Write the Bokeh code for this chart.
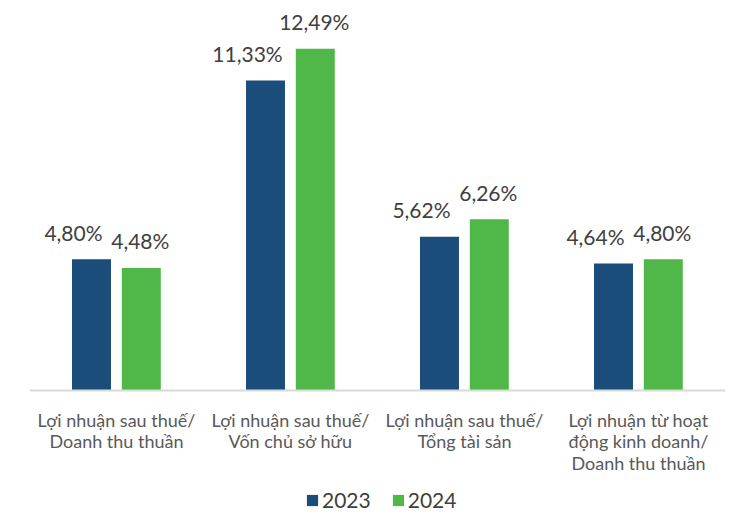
from bokeh.plotting import figure
from bokeh.models import ColumnDataSource, FactorRange, Legend, LegendItem, Span
from bokeh.transform import dodge
from bokeh.core.properties import value
from bokeh.embed import file_html
from bokeh.resources import INLINE

categories = [
    "Lợi nhuận sau thuế/\nDoanh thu thuần",
    "Lợi nhuận sau thuế/\nVốn chủ sở hữu",
    "Lợi nhuận sau thuế/\nTổng tài sản",
    "Lợi nhuận từ hoạt\nđộng kinh doanh/\nDoanh thu thuần",
]
values_2023 = [4.80, 11.33, 5.62, 4.64]
values_2024 = [4.48, 12.49, 6.26, 4.80]
series_names = ["2023", "2024"]

def fmt(v):
    return f"{v:.2f}".replace(".", ",") + "%"

source = ColumnDataSource(dict(
    cat=categories,
    v2023=values_2023,
    v2024=values_2024,
    t2023=[fmt(v) for v in values_2023],
    t2024=[fmt(v) for v in values_2024],
))

# category labels split into lines (drawn as text under the baseline)
LINE_GAP = 21.7
lab_cat, lab_txt, lab_off = [], [], []
for c in categories:
    for i, line in enumerate(c.split("\n")):
        lab_cat.append(c)
        lab_txt.append(line)
        lab_off.append(29 + LINE_GAP * i)
label_src = ColumnDataSource(dict(cat=lab_cat, txt=lab_txt, off=lab_off, y=[0] * len(lab_cat)))

BLUE = "#1A4D79"
GREEN = "#4FB848"
FONT = "Lato"
PX_PER_UNIT = 27.36

p = figure(
    width=732, height=512,
    x_range=FactorRange(factors=categories, range_padding=0),
    y_range=(-122 / PX_PER_UNIT, 390 / PX_PER_UNIT),
    output_backend="svg", toolbar_location=None,
    min_border_left=29, min_border_right=7, min_border_top=0, min_border_bottom=0,
)

r1 = p.vbar(x=dodge("cat", -0.1437, range=p.x_range), top="v2023", bottom=0,
            width=0.224, source=source, fill_color=BLUE, line_color=None)
r2 = p.vbar(x=dodge("cat", 0.1425, range=p.x_range), top="v2024", bottom=0,
            width=0.224, source=source, fill_color=GREEN, line_color=None)

p.add_layout(Span(location=0, dimension="width", line_color="#D9D9D9", line_width=2))

p.text(x=dodge("cat", -0.1437, range=p.x_range), y="v2023", text="t2023", source=source,
       text_font=value(FONT), text_font_size="21px", text_color="#404040",
       text_align="center", text_baseline="alphabetic", x_offset=-18, y_offset=-27)
p.text(x=dodge("cat", 0.1425, range=p.x_range), y="v2024", text="t2024", source=source,
       text_font=value(FONT), text_font_size="21px", text_color="#404040",
       text_align="center", text_baseline="alphabetic", x_offset=-1, y_offset=-27)

p.text(x="cat", y="y", text="txt", y_offset="off", source=label_src,
       text_font=value(FONT), text_font_size="18px", text_color="#595959",
       text_align="center", text_baseline="alphabetic")

p.xaxis.visible = False
p.yaxis.visible = False
p.xgrid.visible = False
p.ygrid.visible = False
p.outline_line_color = None
p.background_fill_color = "white"
p.border_fill_color = "white"

legend = Legend(
    items=[LegendItem(label=series_names[0], renderers=[r1]),
           LegendItem(label=series_names[1], renderers=[r2])],
    orientation="horizontal",
    location=(276, 0),
    glyph_width=14, glyph_height=14,
    label_standoff=3, spacing=20, padding=0, margin=0,
    label_text_font=FONT, label_text_font_size="21px", label_text_color="#404040",
    border_line_color=None, background_fill_alpha=0,
)
p.add_layout(legend, "center")

open("out.html", "w").write(file_html(p, INLINE))
